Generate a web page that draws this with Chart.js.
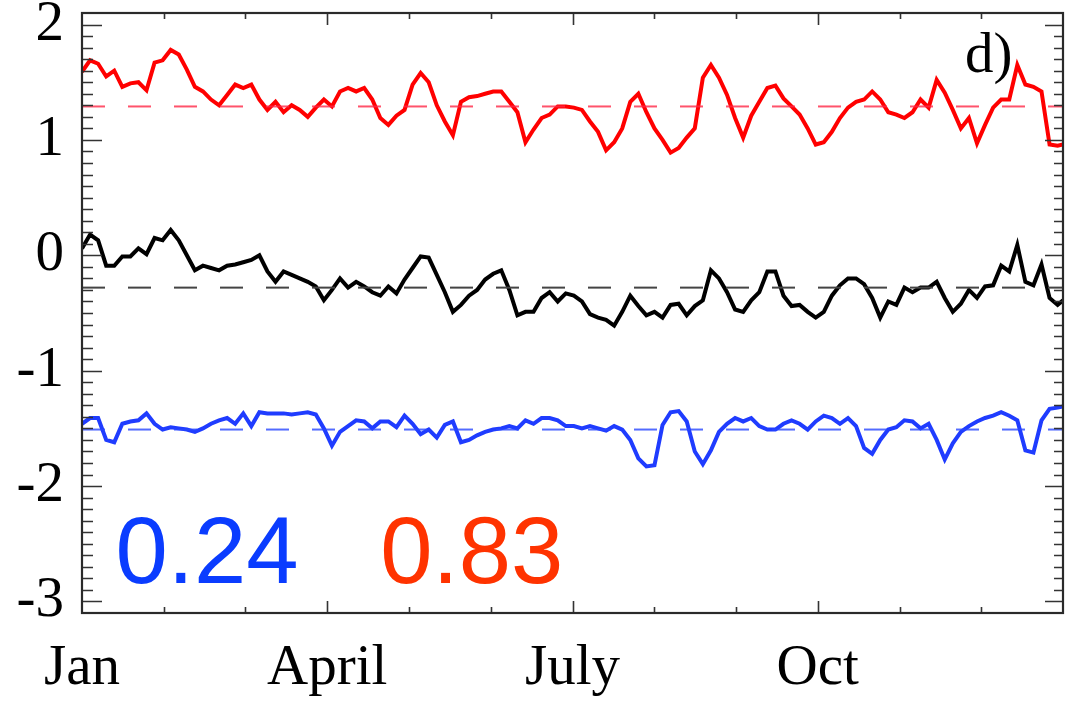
<!DOCTYPE html>
<html>
<head>
<meta charset="utf-8">
<script src="https://cdn.jsdelivr.net/npm/chart.js@4/dist/chart.umd.min.js"></script>
<style>
html,body{margin:0;padding:0;background:#fff;}
#c{display:block;}
</style>
</head>
<body>
<canvas id="c" width="1081" height="707"></canvas>
<script>
// ---- data (day of year) ----
const days = [0,3,6,9,12,15,18,21,24,27,
30,33,36,39,42,45,48,51,54,57,
60,63,66,69,72,75,78,81,84,87,
90,93,96,99,102,105,108,111,114,117,
120,123,126,129,132,135,138,141,144,147,
150,153,156,159,162,165,168,171,174,177,
180,183,186,189,192,195,198,201,204,207,
210,213,216,219,222,225,228,231,234,237,
240,243,246,249,252,255,258,261,264,267,
270,273,276,279,282,285,288,291,294,297,
300,303,306,309,312,315,318,321,324,327,
330,333,336,339,342,345,348,351,354,357,
360,363,365];

const redSeries = [1.59,1.69,1.66,1.55,1.60,1.46,1.49,1.50,1.43,1.67,
1.69,1.78,1.74,1.61,1.46,1.42,1.35,1.30,1.39,1.48,
1.45,1.48,1.35,1.26,1.33,1.24,1.30,1.26,1.20,1.28,
1.35,1.29,1.42,1.45,1.42,1.45,1.35,1.19,1.13,1.21,
1.26,1.48,1.58,1.50,1.30,1.16,1.04,1.33,1.37,1.38,
1.40,1.42,1.42,1.33,1.24,0.98,1.09,1.19,1.22,1.29,
1.29,1.28,1.26,1.16,1.07,0.91,0.98,1.10,1.33,1.40,
1.24,1.10,1.00,0.89,0.93,1.02,1.10,1.54,1.65,1.54,
1.39,1.19,1.02,1.21,1.33,1.45,1.47,1.36,1.29,1.22,
1.10,0.96,0.98,1.07,1.19,1.28,1.33,1.35,1.42,1.35,
1.24,1.22,1.19,1.24,1.35,1.28,1.52,1.41,1.26,1.10,
1.19,0.97,1.13,1.28,1.35,1.35,1.65,1.48,1.46,1.42,
0.96,0.95,0.96];

const blackSeries = [0.06,0.18,0.13,-0.09,-0.09,-0.01,-0.01,0.06,0.01,0.15,
0.13,0.22,0.13,0.00,-0.13,-0.09,-0.11,-0.13,-0.09,-0.08,
-0.06,-0.04,0.00,-0.14,-0.23,-0.14,-0.17,-0.20,-0.23,-0.27,
-0.39,-0.30,-0.20,-0.28,-0.23,-0.27,-0.32,-0.35,-0.27,-0.33,
-0.21,-0.11,-0.01,-0.02,-0.17,-0.32,-0.49,-0.43,-0.35,-0.30,
-0.21,-0.16,-0.13,-0.30,-0.52,-0.49,-0.49,-0.37,-0.32,-0.40,
-0.33,-0.35,-0.40,-0.51,-0.54,-0.56,-0.61,-0.49,-0.35,-0.44,
-0.52,-0.49,-0.54,-0.43,-0.42,-0.52,-0.44,-0.39,-0.13,-0.20,
-0.32,-0.47,-0.49,-0.39,-0.32,-0.14,-0.14,-0.35,-0.44,-0.43,
-0.49,-0.54,-0.49,-0.35,-0.26,-0.20,-0.20,-0.25,-0.37,-0.54,
-0.40,-0.43,-0.28,-0.32,-0.28,-0.28,-0.23,-0.37,-0.49,-0.42,
-0.30,-0.37,-0.27,-0.26,-0.09,-0.14,0.09,-0.23,-0.26,-0.08,
-0.37,-0.43,-0.39];

const blueSeries = [-1.46,-1.41,-1.41,-1.60,-1.62,-1.46,-1.44,-1.43,-1.37,-1.46,
-1.51,-1.49,-1.50,-1.51,-1.53,-1.50,-1.46,-1.43,-1.41,-1.46,
-1.37,-1.48,-1.36,-1.37,-1.37,-1.37,-1.38,-1.37,-1.36,-1.38,
-1.50,-1.65,-1.53,-1.48,-1.43,-1.44,-1.50,-1.44,-1.44,-1.49,
-1.39,-1.46,-1.55,-1.51,-1.58,-1.47,-1.44,-1.62,-1.60,-1.56,
-1.53,-1.51,-1.50,-1.48,-1.50,-1.43,-1.46,-1.41,-1.41,-1.43,
-1.48,-1.48,-1.50,-1.48,-1.50,-1.52,-1.48,-1.51,-1.60,-1.76,
-1.83,-1.82,-1.47,-1.36,-1.35,-1.44,-1.70,-1.81,-1.69,-1.53,
-1.46,-1.41,-1.44,-1.41,-1.48,-1.51,-1.51,-1.46,-1.43,-1.46,
-1.51,-1.44,-1.39,-1.41,-1.46,-1.41,-1.48,-1.67,-1.72,-1.60,
-1.51,-1.49,-1.43,-1.44,-1.50,-1.46,-1.60,-1.77,-1.63,-1.53,
-1.48,-1.44,-1.41,-1.39,-1.36,-1.39,-1.43,-1.69,-1.71,-1.43,
-1.33,-1.32,-1.31];

const meanRed = 1.29;
const meanBlack = -0.28;
const meanBlue = -1.51;

const monthStarts = [0,30.42,60.83,91.25,121.67,152.08,182.5,212.92,243.33,273.75,304.17,334.58,365];
const monthLabels = ['Jan','','','April','','','July','','','Oct','','',''];
const yTickValues = [-3,-2,-1,0,1,2];
const corrTexts = ['0.24','0.83'];
const panelLabel = 'd)';

// ---- drawing ----
const serif = "'Liberation Serif','Times New Roman',serif";
const sans = "'Liberation Sans',Arial,sans-serif";

function series(vals){ return days.map((d,i)=>({x:d,y:vals[i]})); }
function flat(v){ return [{x:days[0],y:v},{x:days[days.length-1],y:v}]; }

const decor = {
  id:'decor',
  afterDraw(chart){
    const ctx = chart.ctx;
    const {left,right,top,bottom} = chart.chartArea;
    const xs = chart.scales.x, ys = chart.scales.y;
    ctx.save();
    ctx.strokeStyle = '#333';
    ctx.lineWidth = 1.6;
    ctx.beginPath();
    for(let i=-30;i<=20;i++){
      const py = Math.round(ys.getPixelForValue(i/10))+0.5;
      const major = (i%10===0);
      ctx.moveTo(left,py); ctx.lineTo(left+(major?20:11),py);
      ctx.moveTo(right,py); ctx.lineTo(right-(major?18:9),py);
    }
    for(let m=1;m<monthStarts.length-1;m++){
      const px = Math.round(xs.getPixelForValue(monthStarts[m]))+0.5;
      const major = (m%3===0);
      ctx.moveTo(px,bottom); ctx.lineTo(px,bottom-(major?12:6));
      ctx.moveTo(px,top); ctx.lineTo(px,top+(major?12:6));
    }
    ctx.stroke();
    ctx.lineWidth = 2.2;
    ctx.strokeStyle = '#2a2a2a';
    ctx.strokeRect(left,top,right-left,bottom-top);
    // texts
    ctx.textBaseline = 'alphabetic';
    ctx.textAlign = 'left';
    ctx.font = '94px ' + sans;
    ctx.fillStyle = '#0a3cff';
    ctx.fillText(corrTexts[0], xs.getPixelForValue(12.5), ys.getPixelForValue(-2.84));
    ctx.fillStyle = '#ff3300';
    ctx.fillText(corrTexts[1], xs.getPixelForValue(111), ys.getPixelForValue(-2.84));
    ctx.font = '57px ' + serif;
    ctx.fillStyle = '#000';
    ctx.fillText(panelLabel, xs.getPixelForValue(328.5), ys.getPixelForValue(1.59));
    ctx.restore();
  }
};

new Chart(document.getElementById('c'), {
  type:'line',
  data:{
    datasets:[
      {data:flat(meanRed), borderColor:'rgba(255,40,70,0.8)', borderWidth:2, borderDash:[23,23], pointRadius:0},
      {data:flat(meanBlack), borderColor:'#444', borderWidth:2, borderDash:[23,23], pointRadius:0},
      {data:flat(meanBlue), borderColor:'rgba(40,70,255,0.8)', borderWidth:2, borderDash:[23,23], pointRadius:0},
      {data:series(redSeries), borderColor:'#ff0000', borderWidth:4, pointRadius:0, tension:0},
      {data:series(blackSeries), borderColor:'#000000', borderWidth:4, pointRadius:0, tension:0},
      {data:series(blueSeries), borderColor:'#1f3cff', borderWidth:4, pointRadius:0, tension:0}
    ]
  },
  options:{
    responsive:false,
    animation:false,
    events:[],
    layout:{padding:{top:13,right:18,left:0,bottom:0}},
    plugins:{legend:{display:false}, tooltip:{enabled:false}},
    scales:{
      x:{
        type:'linear', min:0, max:365,
        afterBuildTicks:(ax)=>{ ax.ticks = monthStarts.map(v=>({value:v})); },
        afterFit:(s)=>{ s.height = 94; s.paddingLeft = 0; s.paddingRight = 0; },
        grid:{display:false, drawTicks:false},
        border:{display:false},
        ticks:{
          autoSkip:false, maxRotation:0, minRotation:0,
          padding:22, color:'#000',
          font:{family:serif, size:57},
          callback:(v,i)=>monthLabels[i]
        }
      },
      y:{
        type:'linear', min:-3.1, max:2.1,
        afterBuildTicks:(ax)=>{ ax.ticks = yTickValues.map(v=>({value:v})); },
        afterFit:(s)=>{ s.width = 82; s.paddingTop = 0; s.paddingBottom = 0; },
        grid:{display:false, drawTicks:false},
        border:{display:false},
        ticks:{
          padding:18, color:'#000',
          font:{family:serif, size:57},
          callback:(v)=>String(v)
        }
      }
    }
  },
  plugins:[decor]
});
</script>
</body>
</html>
